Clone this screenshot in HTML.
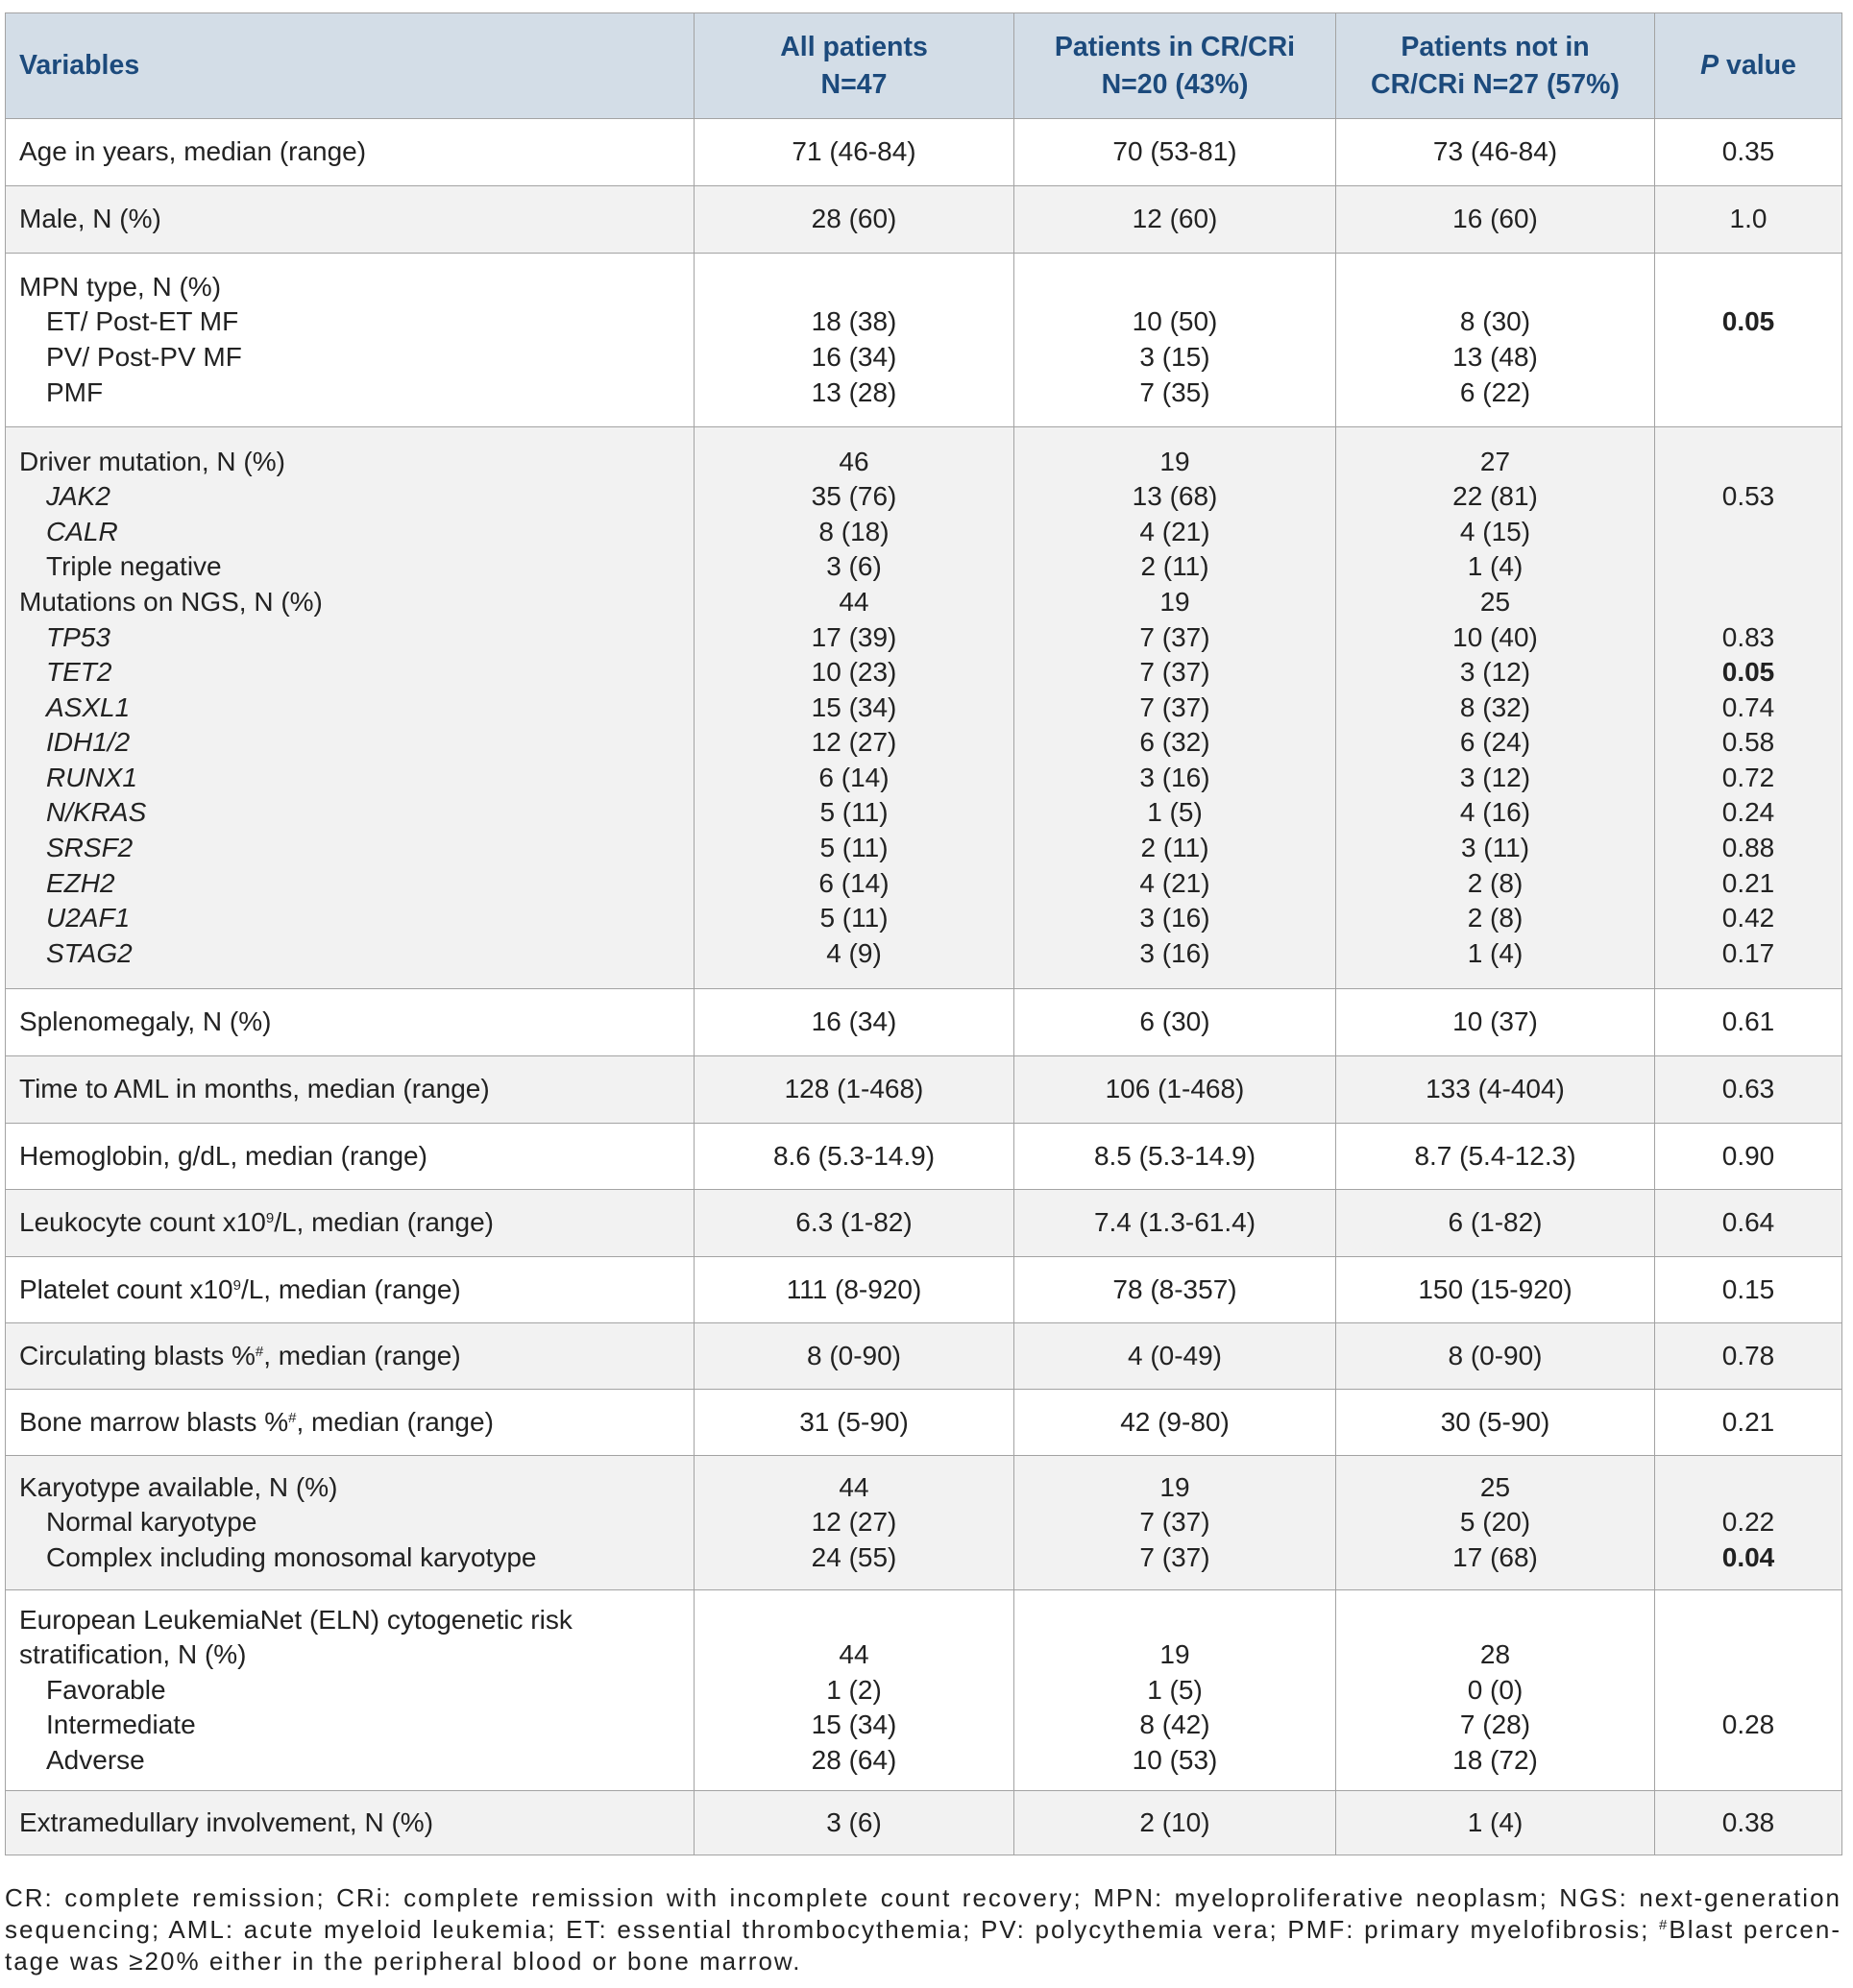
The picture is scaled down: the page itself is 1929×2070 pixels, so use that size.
<!DOCTYPE html>
<html><head><meta charset="utf-8">
<style>
html,body{margin:0;padding:0;background:#fff;}
body{width:1929px;height:2070px;position:relative;overflow:hidden;font-family:"Liberation Sans",Arial,sans-serif;color:#222;}
table{position:absolute;left:5px;top:13px;width:1912px;border-collapse:collapse;table-layout:fixed;font-size:28px;}
td,th{border:1.5px solid #a3a3a3;padding:0;vertical-align:middle;line-height:36.6px;text-align:center;}
td.v{text-align:left;padding-left:14px;}
th{background:#d3dde7;color:#1c4a7c;font-weight:bold;font-size:28.5px;line-height:39px;}
th.v{text-align:left;padding-left:14px;}
tr.g td{background:#f2f2f2;}
.in{padding-left:28px;}
i{font-style:italic;}
b{font-weight:bold;}
#foot{position:absolute;left:5px;top:1960px;width:1912px;font-size:26px;line-height:33px;color:#222;letter-spacing:2px;}
#foot span{display:block;white-space:nowrap;}
#foot span.j{text-align:justify;text-align-last:justify;}
sup{font-size:15px;line-height:0;vertical-align:9px;}
</style></head><body>
<table>
<colgroup><col style="width:717px"><col style="width:333px"><col style="width:335px"><col style="width:332px"><col style="width:195px"></colgroup>
<tr style="height:110px">
<th class="v">Variables</th>
<th>All patients<br>N=47</th>
<th>Patients in CR/CRi<br>N=20 (43%)</th>
<th>Patients not in<br>CR/CRi N=27 (57%)</th>
<th><i>P</i> value</th>
</tr>
<tr style="height:70px"><td class="v">Age in years, median (range)</td><td>71 (46-84)</td><td>70 (53-81)</td><td>73 (46-84)</td><td>0.35</td></tr>
<tr class="g" style="height:70px"><td class="v">Male, N (%)</td><td>28 (60)</td><td>12 (60)</td><td>16 (60)</td><td>1.0</td></tr>
<tr style="height:181px"><td class="v">MPN type, N (%)<br><span class="in">ET/ Post-ET MF</span><br><span class="in">PV/ Post-PV MF</span><br><span class="in">PMF</span></td>
<td>&nbsp;<br>18 (38)<br>16 (34)<br>13 (28)</td><td>&nbsp;<br>10 (50)<br>3 (15)<br>7 (35)</td><td>&nbsp;<br>8 (30)<br>13 (48)<br>6 (22)</td><td>&nbsp;<br><b>0.05</b><br>&nbsp;<br>&nbsp;</td></tr>
<tr class="g" style="height:585px"><td class="v">Driver mutation, N (%)<br><span class="in"><i>JAK2</i></span><br><span class="in"><i>CALR</i></span><br><span class="in">Triple negative</span><br>Mutations on NGS, N (%)<br><span class="in"><i>TP53</i></span><br><span class="in"><i>TET2</i></span><br><span class="in"><i>ASXL1</i></span><br><span class="in"><i>IDH1/2</i></span><br><span class="in"><i>RUNX1</i></span><br><span class="in"><i>N/KRAS</i></span><br><span class="in"><i>SRSF2</i></span><br><span class="in"><i>EZH2</i></span><br><span class="in"><i>U2AF1</i></span><br><span class="in"><i>STAG2</i></span></td>
<td>46<br>35 (76)<br>8 (18)<br>3 (6)<br>44<br>17 (39)<br>10 (23)<br>15 (34)<br>12 (27)<br>6 (14)<br>5 (11)<br>5 (11)<br>6 (14)<br>5 (11)<br>4 (9)</td>
<td>19<br>13 (68)<br>4 (21)<br>2 (11)<br>19<br>7 (37)<br>7 (37)<br>7 (37)<br>6 (32)<br>3 (16)<br>1 (5)<br>2 (11)<br>4 (21)<br>3 (16)<br>3 (16)</td>
<td>27<br>22 (81)<br>4 (15)<br>1 (4)<br>25<br>10 (40)<br>3 (12)<br>8 (32)<br>6 (24)<br>3 (12)<br>4 (16)<br>3 (11)<br>2 (8)<br>2 (8)<br>1 (4)</td>
<td>&nbsp;<br>0.53<br>&nbsp;<br>&nbsp;<br>&nbsp;<br>0.83<br><b>0.05</b><br>0.74<br>0.58<br>0.72<br>0.24<br>0.88<br>0.21<br>0.42<br>0.17</td></tr>
<tr style="height:70px"><td class="v">Splenomegaly, N (%)</td><td>16 (34)</td><td>6 (30)</td><td>10 (37)</td><td>0.61</td></tr>
<tr class="g" style="height:70px"><td class="v">Time to AML in months, median (range)</td><td>128 (1-468)</td><td>106 (1-468)</td><td>133 (4-404)</td><td>0.63</td></tr>
<tr style="height:69px"><td class="v">Hemoglobin, g/dL, median (range)</td><td>8.6 (5.3-14.9)</td><td>8.5 (5.3-14.9)</td><td>8.7 (5.4-12.3)</td><td>0.90</td></tr>
<tr class="g" style="height:70px"><td class="v">Leukocyte count x10<sup>9</sup>/L, median (range)</td><td>6.3 (1-82)</td><td>7.4 (1.3-61.4)</td><td>6 (1-82)</td><td>0.64</td></tr>
<tr style="height:69px"><td class="v">Platelet count x10<sup>9</sup>/L, median (range)</td><td>111 (8-920)</td><td>78 (8-357)</td><td>150 (15-920)</td><td>0.15</td></tr>
<tr class="g" style="height:69px"><td class="v">Circulating blasts %<sup>#</sup>, median (range)</td><td>8 (0-90)</td><td>4 (0-49)</td><td>8 (0-90)</td><td>0.78</td></tr>
<tr style="height:69px"><td class="v">Bone marrow blasts %<sup>#</sup>, median (range)</td><td>31 (5-90)</td><td>42 (9-80)</td><td>30 (5-90)</td><td>0.21</td></tr>
<tr class="g" style="height:140px"><td class="v">Karyotype available, N (%)<br><span class="in">Normal karyotype</span><br><span class="in">Complex including monosomal karyotype</span></td>
<td>44<br>12 (27)<br>24 (55)</td><td>19<br>7 (37)<br>7 (37)</td><td>25<br>5 (20)<br>17 (68)</td><td>&nbsp;<br>0.22<br><b>0.04</b></td></tr>
<tr style="height:209px"><td class="v">European LeukemiaNet (ELN) cytogenetic risk<br>stratification, N (%)<br><span class="in">Favorable</span><br><span class="in">Intermediate</span><br><span class="in">Adverse</span></td>
<td>&nbsp;<br>44<br>1 (2)<br>15 (34)<br>28 (64)</td><td>&nbsp;<br>19<br>1 (5)<br>8 (42)<br>10 (53)</td><td>&nbsp;<br>28<br>0 (0)<br>7 (28)<br>18 (72)</td><td>&nbsp;<br>&nbsp;<br>&nbsp;<br>0.28<br>&nbsp;</td></tr>
<tr class="g" style="height:67px"><td class="v">Extramedullary involvement, N (%)</td><td>3 (6)</td><td>2 (10)</td><td>1 (4)</td><td>0.38</td></tr>
</table>
<div id="foot"><span class="j">CR: complete remission; CRi: complete remission with incomplete count recovery; MPN: myeloproliferative neoplasm; NGS: next-generation</span><span class="j">sequencing; AML: acute myeloid leukemia; ET: essential thrombocythemia; PV: polycythemia vera; PMF: primary myelofibrosis; <sup>#</sup>Blast percen-</span><span>tage was ≥20% either in the peripheral blood or bone marrow.</span></div>
</body></html>
